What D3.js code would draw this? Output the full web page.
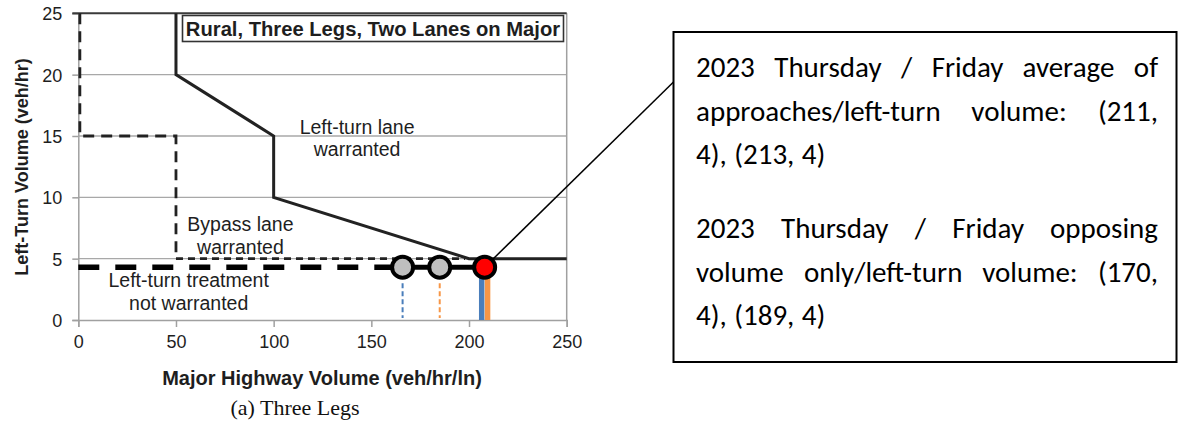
<!DOCTYPE html>
<html>
<head>
<meta charset="utf-8">
<script src="https://cdn.jsdelivr.net/npm/d3@7"></script>
<style>
  body { margin: 0; background: #fff; }
  svg { display: block; }
  .tick text { font-family: "Liberation Sans", Arial, sans-serif; }
</style>
</head>
<body>
<div id="chart"></div>
<script>
// axis ticks
var xTicks = [0, 50, 100, 150, 200, 250];
var yTicks = [0, 5, 10, 15, 20, 25];

// warrant boundaries, [major volume, left-turn volume]
var laneLine = [[50, 25], [50, 20], [100, 15], [100, 10], [200, 5], [250, 5]];
var bypassLine = [[0, 25], [0, 15], [50, 15], [50, 5]];
var bypassFloor = [[50, 5], [198, 5]];

// observed points
var leftTurnVol = 4.3;
var opposingVol = [166, 185];   // grey circles, opposing volume only
var averageVol = [206.5, 209.5]; // average of approaches (solid bars)
var averagePoint = 208;         // red circle
var seriesColors = ["#4a7ebb", "#f79646"];

var regionLabels = [
  {lines: ["Left-turn lane", "warranted"], x: 142.7, y: 15.15, step: 21.5},
  {lines: ["Bypass lane", "warranted"], x: 83, y: 7.25, step: 23},
  {lines: ["Left-turn treatment", "not warranted"], x: 56.5, y: 2.7, step: 23}
];
var chartTitle = "Rural, Three Legs, Two Lanes on Major";
var xTitle = "Major Highway Volume (veh/hr/ln)";
var yTitle = "Left-Turn Volume (veh/hr)";
var caption = "(a) Three Legs";

var para1 = ["2023 Thursday / Friday average of", "approaches/left-turn volume: (211,", "4), (213, 4)"];
var para2 = ["2023 Thursday / Friday opposing", "volume only/left-turn volume: (170,", "4), (189, 4)"];

var W = 1181, H = 423;
var svg = d3.select("#chart").append("svg")
  .attr("width", W)
  .attr("height", H);

var x = d3.scaleLinear().domain([0, 250]).range([78.3, 566.7]);
var y = d3.scaleLinear().domain([0, 25]).range([320, 13.3]);
var line = d3.line().x(d => x(d[0])).y(d => y(d[1]));

//Gridlines
svg.append("g").selectAll("line")
  .data(yTicks.filter(d => d > 0 && d < 25))
  .enter().append("line")
  .attr("x1", x(0)).attr("x2", x(250))
  .attr("y1", d => y(d)).attr("y2", d => y(d))
  .attr("stroke", "#a8a8a8")
  .attr("stroke-width", 1.3);

//Right border
svg.append("line")
  .attr("x1", x(250)).attr("x2", x(250))
  .attr("y1", y(25)).attr("y2", y(0))
  .attr("stroke", "#a0a0a0").attr("stroke-width", 1.5);

//Axes
var xAxis = svg.append("g")
  .attr("transform", "translate(0," + y(0) + ")")
  .call(d3.axisBottom(x).tickValues(xTicks).tickSize(7).tickPadding(8));
var yAxis = svg.append("g")
  .attr("transform", "translate(" + x(0) + ",0)")
  .call(d3.axisLeft(y).tickValues(yTicks).tickSize(6).tickPadding(10));

[xAxis, yAxis].forEach(function(g) {
  g.select(".domain").attr("stroke", "#a0a0a0").attr("stroke-width", 1.5);
  g.selectAll(".tick line").attr("stroke", "#a0a0a0").attr("stroke-width", 1.5);
  g.selectAll(".tick text")
    .attr("fill", "#1e1e1e")
    .style("font-size", "18px");
});
yAxis.selectAll(".tick text").attr("dy", "0.36em");

//Top border (dark)
svg.append("line")
  .attr("x1", x(0) - 6).attr("x2", x(250))
  .attr("y1", y(25)).attr("y2", y(25))
  .attr("stroke", "#3a3a3a").attr("stroke-width", 2);

//Bypass lane boundary
svg.append("path")
  .datum(bypassLine.map(d => [d[0] === 0 ? 0.8 : d[0], d[1]]))
  .attr("d", line)
  .attr("fill", "none")
  .attr("stroke", "#222")
  .attr("stroke-width", 2.8)
  .attr("stroke-dasharray", "11,7");

svg.append("path")
  .datum(bypassFloor)
  .attr("d", line)
  .attr("fill", "none")
  .attr("stroke", "#222")
  .attr("stroke-width", 2.8)
  .attr("stroke-dasharray", "7,5");

//Left-turn lane boundary
svg.append("path")
  .datum(laneLine)
  .attr("d", line)
  .attr("fill", "none")
  .attr("stroke", "#222")
  .attr("stroke-width", 3);

//Chart title box
var titleBox = svg.append("g");
titleBox.append("rect")
  .attr("x", 182.5).attr("y", 15.5)
  .attr("width", 381).attr("height", 26)
  .attr("fill", "#fff")
  .attr("stroke", "#333")
  .attr("stroke-width", 1.6);
titleBox.append("text")
  .attr("x", 373).attr("y", 35.5)
  .attr("text-anchor", "middle")
  .style("font-family", "'Liberation Sans', Arial, sans-serif")
  .style("font-weight", "bold")
  .style("font-size", "20.2px")
  .attr("fill", "#1e1e1e")
  .text(chartTitle);

//Region labels
regionLabels.forEach(function(lab) {
  var t = svg.append("text")
    .attr("text-anchor", "middle")
    .style("font-family", "'Liberation Sans', Arial, sans-serif")
    .style("font-size", "19.5px")
    .attr("fill", "#1e1e1e");
  lab.lines.forEach(function(s, i) {
    t.append("tspan")
      .attr("x", x(lab.x))
      .attr("y", y(lab.y) + i * lab.step)
      .text(s);
  });
});

//Observed left-turn volume line: dashed to first point, solid after
svg.append("path")
  .datum([[0, leftTurnVol], [opposingVol[0], leftTurnVol]])
  .attr("d", line)
  .attr("stroke", "#000")
  .attr("stroke-width", 5.5)
  .attr("stroke-dasharray", "21,16");
svg.append("path")
  .datum([[opposingVol[0], leftTurnVol], [averagePoint, leftTurnVol]])
  .attr("d", line)
  .attr("stroke", "#000")
  .attr("stroke-width", 5);

//Drop lines
svg.selectAll(".opp-drop")
  .data(opposingVol)
  .enter().append("line")
  .attr("class", "opp-drop")
  .attr("x1", d => x(d)).attr("x2", d => x(d))
  .attr("y1", y(leftTurnVol) + 16).attr("y2", y(0) - 2)
  .attr("stroke", (d, i) => seriesColors[i])
  .attr("stroke-width", 2)
  .attr("stroke-dasharray", "5,3");
svg.selectAll(".avg-drop")
  .data(averageVol)
  .enter().append("line")
  .attr("class", "avg-drop")
  .attr("x1", d => x(d)).attr("x2", d => x(d))
  .attr("y1", y(leftTurnVol)).attr("y2", y(0))
  .attr("stroke", (d, i) => seriesColors[i])
  .attr("stroke-width", 5.5);

//Callout box
var boxX = 673.5, boxY = 32, boxW = 503, boxH = 330;
svg.append("line")
  .attr("x1", x(averagePoint)).attr("y1", y(leftTurnVol))
  .attr("x2", boxX).attr("y2", 82)
  .attr("stroke", "#000").attr("stroke-width", 1.5);

//Points
svg.selectAll(".opp-pt")
  .data(opposingVol)
  .enter().append("circle")
  .attr("class", "opp-pt")
  .attr("cx", d => x(d)).attr("cy", y(leftTurnVol))
  .attr("r", 10.5)
  .attr("fill", "#bfbfbf")
  .attr("stroke", "#000")
  .attr("stroke-width", 4);
svg.append("circle")
  .attr("cx", x(averagePoint)).attr("cy", y(leftTurnVol))
  .attr("r", 10.5)
  .attr("fill", "#ff0000")
  .attr("stroke", "#000")
  .attr("stroke-width", 4);

//Axis titles and caption
svg.append("text")
  .attr("x", 322).attr("y", 385)
  .attr("text-anchor", "middle")
  .style("font-family", "'Liberation Sans', Arial, sans-serif")
  .style("font-weight", "bold")
  .style("font-size", "20px")
  .attr("fill", "#1e1e1e")
  .text(xTitle);
svg.append("text")
  .attr("transform", "translate(28,167) rotate(-90)")
  .attr("text-anchor", "middle")
  .style("font-family", "'Liberation Sans', Arial, sans-serif")
  .style("font-weight", "bold")
  .style("font-size", "18px")
  .attr("fill", "#1e1e1e")
  .text(yTitle);
svg.append("text")
  .attr("x", 295).attr("y", 415)
  .attr("text-anchor", "middle")
  .style("font-family", "'Liberation Serif', 'Times New Roman', serif")
  .style("font-size", "22px")
  .attr("fill", "#111")
  .text(caption);

svg.append("rect")
  .attr("x", boxX).attr("y", boxY)
  .attr("width", boxW).attr("height", boxH)
  .attr("fill", "#fff")
  .attr("stroke", "#000")
  .attr("stroke-width", 2);

//Justified paragraph text inside the callout
var textLeft = 696, textRight = 1158;
function drawPara(lines, baseY) {
  lines.forEach(function(s, i) {
    var words = s.split(" ");
    var t = svg.append("text")
      .attr("y", baseY + i * 43.4)
      .style("font-family", "Carlito, Calibri, Lato, sans-serif")
      .style("font-size", "29px")
      .attr("fill", "#000");
    var spans = words.map(w => t.append("tspan").text(w));
    var widths = spans.map(sp => sp.node().getComputedTextLength());
    var justify = i < lines.length - 1;
    var total = d3.sum(widths);
    var gap = justify ? (textRight - textLeft - total) / (words.length - 1) : 7.5;
    var cx = textLeft;
    spans.forEach(function(sp, j) {
      sp.attr("x", cx);
      cx += widths[j] + gap;
    });
  });
}
drawPara(para1, 77.3);
drawPara(para2, 238.3);
</script>
</body>
</html>
